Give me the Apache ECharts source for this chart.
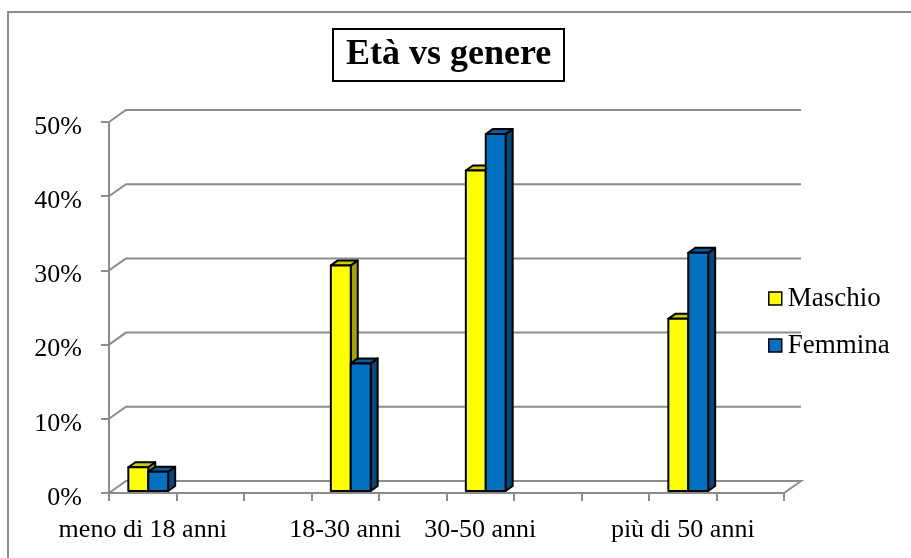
<!DOCTYPE html>
<html>
<head>
<meta charset="utf-8">
<script src="https://cdn.jsdelivr.net/npm/echarts@6/dist/echarts.min.js"></script>
<style>
  html, body { margin: 0; padding: 0; background: #fff; }
  #chart { width: 911px; height: 558px; }
</style>
</head>
<body>
<div id="chart"></div>
<script>
// Age brackets on the category axis (blank slots are empty columns in the sheet)
const categories = ['meno di 18 anni', '', '', '18-30 anni', '', '30-50 anni', '', '', 'più di 50 anni', ''];
// Share of respondents per age bracket, in percent
const maschio = [3.2, null, null, 30.4, null, 43.2, null, null, 23.2, null];
const femmina = [2.6, null, null, 17.2, null, 48.1, null, null, 32.1, null];
// Value axis ticks
const yTicks = [0, 10, 20, 30, 40, 50];

const FONT = "'Liberation Serif', 'Times New Roman', serif";
const GRID_GRAY = '#8c8c8c';
const DEPTH_X = 17, DEPTH_Y = 12;     // back wall offset
const BAR_DX = 7, BAR_DY = 5;         // bar extrusion
const BAR_SHIFT_X = 5.5, BAR_SHIFT_Y = 2;

const palette = {
  Maschio: { front: '#FFFF00', top: '#CCCC00', side: '#A3A300' },
  Femmina: { front: '#0070C0', top: '#005C9E', side: '#004A80' }
};

// Back wall gridlines with the diagonal joins to the front axis
function renderWalls(params, api) {
  const cs = params.coordSys;
  const v = api.value(0);
  const y = api.coord([0, v])[1];
  const x0 = cs.x, x1 = cs.x + cs.width;
  const pts = [[x0, y], [x0 + DEPTH_X, y - DEPTH_Y], [x1 + DEPTH_X, y - DEPTH_Y]];
  if (v === yTicks[0]) pts.push([x1, y]);
  return {
    type: 'polyline',
    shape: { points: pts },
    style: { stroke: GRID_GRAY, lineWidth: 2, fill: null },
    silent: true
  };
}

// Extruded bar: front face, top cap and right side
function makeBarRenderer(name, slot) {
  const c = palette[name];
  return function (params, api) {
    const idx = api.value(0);
    const val = api.value(1);
    if (val == null || isNaN(val)) return;
    const band = api.size([1, 0])[0];
    const w = band * 0.295;
    const center = api.coord([idx, 0])[0] + BAR_SHIFT_X;
    const bottom = api.coord([idx, 0])[1] - BAR_SHIFT_Y;
    const top = api.coord([idx, val])[1] - BAR_SHIFT_Y;
    const left = slot === 0 ? center - w : center;
    const right = left + w;
    const edge = { stroke: '#000', lineWidth: 2, lineJoin: 'round' };
    return {
      type: 'group',
      children: [
        { type: 'polygon',
          shape: { points: [[right, top], [right + BAR_DX, top - BAR_DY], [right + BAR_DX, bottom - BAR_DY], [right, bottom]] },
          style: Object.assign({ fill: c.side }, edge) },
        { type: 'polygon',
          shape: { points: [[left, top], [left + BAR_DX, top - BAR_DY], [right + BAR_DX, top - BAR_DY], [right, top]] },
          style: Object.assign({ fill: c.top }, edge) },
        { type: 'rect',
          shape: { x: left, y: top, width: w, height: bottom - top },
          style: Object.assign({ fill: c.front }, edge) }
      ]
    };
  };
}

const chart = echarts.init(document.getElementById('chart'), null, { renderer: 'canvas' });

chart.setOption({
  backgroundColor: '#fff',
  animation: false,
  textStyle: { fontFamily: FONT },
  title: {
    text: 'Età vs genere',
    left: 333,
    top: 29,
    padding: [8, 13, 8, 13],
    borderColor: '#000',
    borderWidth: 2,
    textStyle: { fontFamily: FONT, fontSize: 36, fontWeight: 'bold', color: '#000', lineHeight: 36 }
  },
  legend: {
    orient: 'vertical',
    left: 768,
    top: 285,
    padding: 0,
    itemGap: 20,
    itemWidth: 13,
    itemHeight: 13,
    textStyle: { fontFamily: FONT, fontSize: 27, color: '#000', lineHeight: 27, padding: [0, 0, 0, 1] },
    data: [
      { name: 'Maschio', icon: 'rect', itemStyle: { color: palette.Maschio.front, borderColor: '#000', borderWidth: 1.5 } },
      { name: 'Femmina', icon: 'rect', itemStyle: { color: palette.Femmina.front, borderColor: '#000', borderWidth: 1.5 } }
    ]
  },
  grid: { left: 109, top: 122, width: 675, height: 371, containLabel: false },
  xAxis: {
    type: 'category',
    data: categories,
    boundaryGap: true,
    axisLine: { show: true, lineStyle: { color: GRID_GRAY, width: 2 } },
    axisTick: { show: true, interval: 0, length: 8, lineStyle: { color: GRID_GRAY, width: 2 } },
    axisLabel: { interval: 0, margin: 24, fontFamily: FONT, fontSize: 26, color: '#000' },
    splitLine: { show: false }
  },
  yAxis: {
    type: 'value',
    min: 0,
    max: 50,
    interval: 10,
    axisLine: { show: true, lineStyle: { color: GRID_GRAY, width: 2 } },
    axisTick: { show: true, length: 8, lineStyle: { color: GRID_GRAY, width: 2 } },
    axisLabel: {
      margin: 27,
      formatter: function (v) { return '{p|' + v + '%}'; },
      rich: { p: { fontFamily: FONT, fontSize: 26, color: '#000', lineHeight: 26, padding: [10, 0, 0, 0] } }
    },
    splitLine: { show: false }
  },
  graphic: [
    { type: 'rect', silent: true, z: -1,
      shape: { x: 8, y: 12, width: 1000, height: 1000 },
      style: { fill: null, stroke: GRID_GRAY, lineWidth: 2 } }
  ],
  series: [
    {
      name: 'walls',
      type: 'custom',
      silent: true,
      renderItem: renderWalls,
      data: yTicks.map(function (t) { return [t]; }),
      encode: { y: 0 },
      z: 1
    },
    {
      name: 'Maschio',
      type: 'custom',
      renderItem: makeBarRenderer('Maschio', 0),
      itemStyle: { color: palette.Maschio.front },
      data: maschio.map(function (v, i) { return [i, v]; }),
      encode: { x: 0, y: 1 },
      z: 2
    },
    {
      name: 'Femmina',
      type: 'custom',
      renderItem: makeBarRenderer('Femmina', 1),
      itemStyle: { color: palette.Femmina.front },
      data: femmina.map(function (v, i) { return [i, v]; }),
      encode: { x: 0, y: 1 },
      z: 3
    }
  ]
});
</script>
</body>
</html>
